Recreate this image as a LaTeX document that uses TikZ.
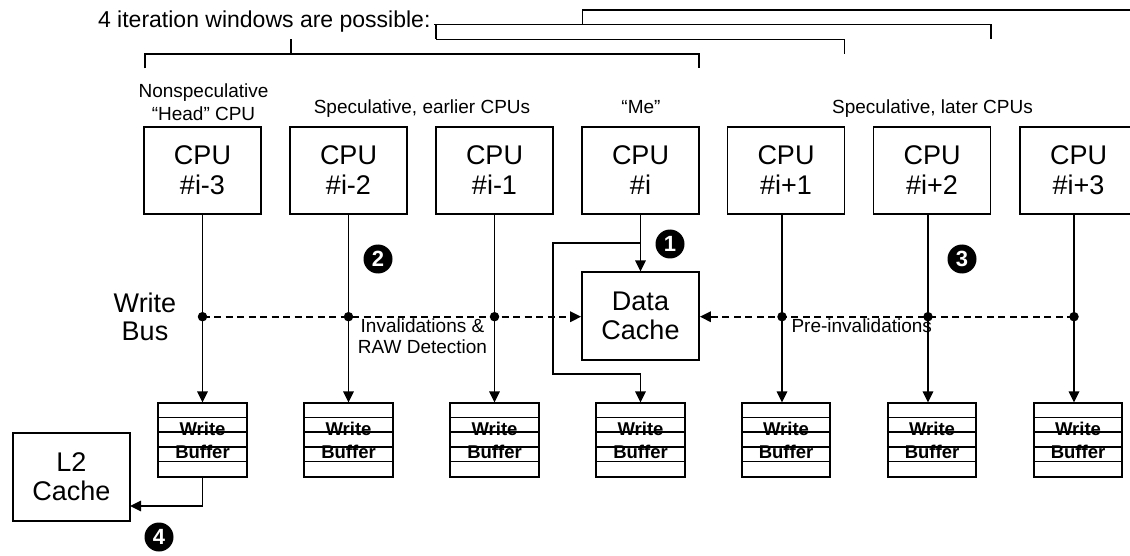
\documentclass[tikz,border=0pt]{standalone}
\usepackage{fontspec}
\setmainfont{Liberation Sans}
\usetikzlibrary{arrows.meta}
\begin{document}
\begin{tikzpicture}[x=1pt,y=-1pt,
  ln/.style={line width=1.7pt},
  arr/.style={ln,-{Triangle[length=11pt,width=10.5pt]}},
  bus/.style={line width=1.7pt,dash pattern=on 7pt off 4.5pt},
  big/.style={font=\fontsize{27}{29}\selectfont},
  cpubox/.style={draw,line width=1.7pt,minimum width=117pt,minimum height=87pt,inner sep=0pt,align=center,font=\fontsize{27}{30}\selectfont},
  cachebox/.style={draw,line width=1.7pt,minimum width=117pt,minimum height=88pt,inner sep=0pt,align=center,big},
  wbuf/.style={draw,line width=1.7pt,minimum width=88.4pt,minimum height=74pt,inner sep=0pt,align=center,font=\bfseries\fontsize{18.5}{23}\selectfont},
  lab/.style={font=\fontsize{19}{21}\selectfont},
  dot/.style={circle,fill=black,inner sep=0pt,minimum size=9.5pt},
  num/.style={circle,fill=black,inner sep=0pt,minimum size=29pt,text=white,font=\bfseries\fontsize{22}{22}\selectfont}
]
\useasboundingbox (0,0) rectangle (1130,556);
\fill[white] (0,0) rectangle (1130,556);

% CPUs
\node[cpubox] (cpu1) at (202.5,170.3) {CPU\\\#i-3};
\node[cpubox] (cpu2) at (348.5,170.3) {CPU\\\#i-2};
\node[cpubox] (cpu3) at (494.5,170.3) {CPU\\\#i-1};
\node[cpubox] (cpu4) at (640.5,170.3) {CPU\\\#i};
\node[cpubox] (cpu5) at (786,170.3) {CPU\\\#i+1};
\node[cpubox] (cpu6) at (932,170.3) {CPU\\\#i+2};
\node[cpubox] (cpu7) at (1078.5,170.3) {CPU\\\#i+3};

% Write buffers
\foreach \i/\x in {1/202.5,2/348.5,3/494.5,4/640.5,5/786,6/932,7/1078}{
  \node[wbuf] (wb\i) at (\x,440.3) {Write\\Buffer};
  \foreach \k in {1,2,3,4}{
    \draw[line width=1.5pt] ([yshift=-\k*14.8pt]wb\i.north west) -- ([yshift=-\k*14.8pt]wb\i.north east);
  }
}

% caches
\node[cachebox] (dc) at (640.5,316.2) {Data\\Cache};
\node[cachebox] (l2) at (71.3,476.7) {L2\\Cache};

% labels
\node[anchor=base east,font=\fontsize{23}{25}\selectfont] (title) at (434,27.5) {4 iteration windows are possible:};
\node[lab,anchor=base] (ns1) at (203.5,97.7) {Nonspeculative};
\node[lab,anchor=base] (ns2) at (203.5,121) {“Head” CPU};
\node[lab,anchor=base] (early) at (422,114) {Speculative, earlier CPUs};
\node[lab,anchor=base] (me) at (641,114) {“Me”};
\node[lab,anchor=base] (late) at (932.5,114) {Speculative, later CPUs};
\node[big,anchor=base] (wbus1) at (145,312.3) {Write};
\node[big,anchor=base] (wbus2) at (145,340.7) {Bus};
\node[lab,anchor=base] (inv1) at (422.5,332.7) {Invalidations \&};
\node[lab,anchor=base] (inv2) at (422.5,353.3) {RAW Detection};
\node[lab,anchor=base west] (pre) at (788,332.7) {Pre-invalidations};

% brackets
\draw[ln] (582.5,24.5) -- (582.5,10) -- (1140,10);
\draw[ln] (title.base east |- 0,24.5) -- (991,24.5) -- (991,39.5);
\draw[ln] (436,24.5) -- (436,39.5);
\draw[ln] (436,39.5) -- (844.5,39.5) -- (844.5,54);
\draw[ln] (291,39.5) -- (291,54);
\draw[ln] (145,68.5) -- (145,54) -- (699,54) -- (699,68.5);

% bus junctions
\coordinate (j1) at (202.5,316.7);
\coordinate (j2) at (348.5,316.7);
\coordinate (j3) at (494.5,316.7);
\coordinate (j5) at (782,316.7);
\coordinate (j6) at (928,316.7);
\coordinate (j7) at (1074,316.7);

% vertical connectors
\draw[arr] (cpu1.south) -- (wb1.north);
\draw[arr] (cpu2.south) -- (wb2.north);
\draw[arr] (cpu3.south) -- (wb3.north);
\draw[arr] ([xshift=-4pt]cpu5.south) -- ([xshift=-4pt]wb5.north);
\draw[arr] ([xshift=-4pt]cpu6.south) -- ([xshift=-4pt]wb6.north);
\draw[arr] ([xshift=-4.5pt]cpu7.south) -- ([xshift=-4pt]wb7.north);
\draw[arr] (cpu4.south) -- (dc.north);
\coordinate (brA) at (640.5,243.3);
\coordinate (brB) at (552.7,374);
\draw[arr] (brA) -| (brB) -| (wb4.north);
\coordinate (l2in) at (130,506);
\draw[arr] (wb1.south) |- (l2in);

% bus
\draw[bus] (j1) -- ([xshift=-9pt]dc.west |- j1);
\draw[-{Triangle[length=11pt,width=10.5pt]},line width=1.7pt] ([xshift=-10pt]dc.west |- j1) -- (dc.west |- j1);
\draw[bus] (j7) -- ([xshift=9pt]dc.east |- j7);
\draw[-{Triangle[length=11pt,width=10.5pt]},line width=1.7pt] ([xshift=10pt]dc.east |- j7) -- (dc.east |- j7);
\foreach \j in {j1,j2,j3,j5,j6,j7}{\node[dot] at (\j) {};}

% numbered markers
\node[num] (n1) at (670,244) {1};
\node[num] (n2) at (378,259) {2};
\node[num] (n3) at (962,259) {3};
\node[num] (n4) at (159,537) {4};
\end{tikzpicture}
\end{document}
